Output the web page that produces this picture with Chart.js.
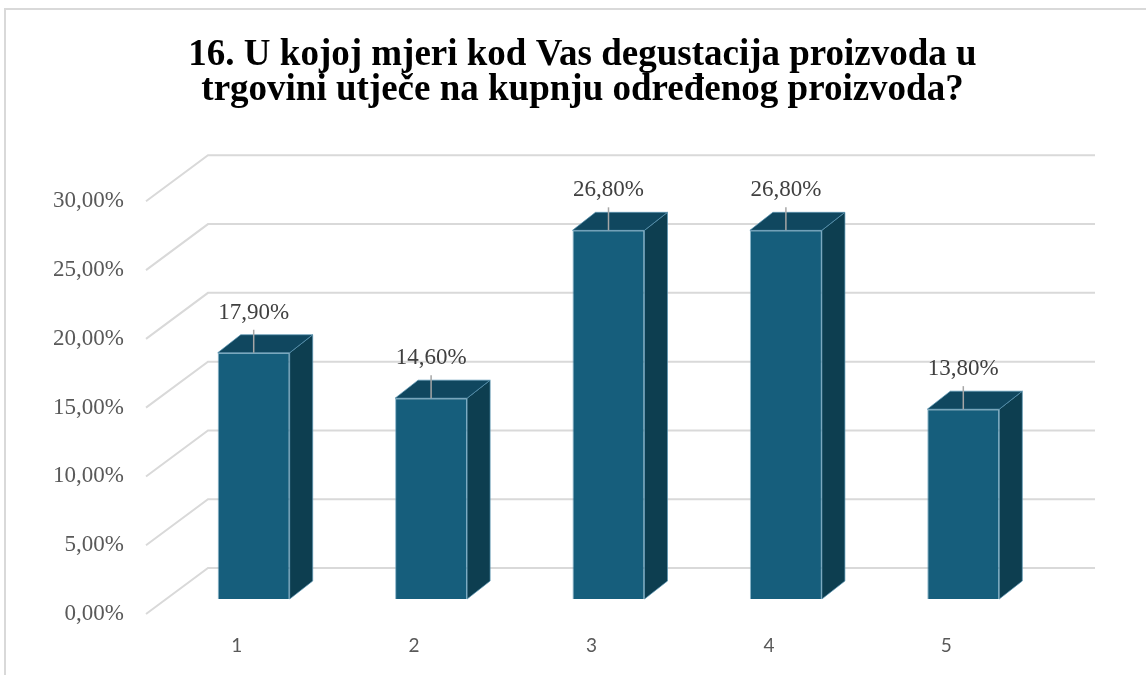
<!DOCTYPE html>
<html>
<head>
<meta charset="utf-8">
<script src="https://cdn.jsdelivr.net/npm/chart.js@4"></script>
<style>
  html, body { margin: 0; padding: 0; background: #fff; }
  #wrap { width: 1146px; height: 675px; }
</style>
</head>
<body>
<div id="wrap"><canvas id="degustacijaChart" width="1146" height="675"></canvas></div>
<script>
const categories = ['1', '2', '3', '4', '5'];
const shares = [17.9, 14.6, 26.8, 26.8, 13.8];
const yMax = 30;
const yStep = 5;
const titleLines = ['16. U kojoj mjeri kod Vas degustacija proizvoda u', 'trgovini utječe na kupnju određenog proizvoda?'];

const fmtPct = v => v.toFixed(2).replace('.', ',') + '%';

// 3d look: bar depth and the floor/wall perspective
const BAR_DX = 23, BAR_DY = 18;
const WALL_BACK_X = 43, WALL_FRONT_X = -19, WALL_UP = 31, WALL_DOWN = 15;

const fakeDepth = {
    id: 'fakeDepth',
    beforeDraw(chart) {
        const ctx = chart.ctx;
        ctx.save();
        ctx.strokeStyle = '#d9d9d9';
        ctx.lineWidth = 2;
        ctx.beginPath();
        ctx.moveTo(5, 675);
        ctx.lineTo(5, 9);
        ctx.lineTo(1146, 9);
        ctx.stroke();
        ctx.restore();
    },
    beforeDatasetsDraw(chart) {
        const ctx = chart.ctx;
        const y = chart.scales.y;
        const area = chart.chartArea;
        ctx.save();
        ctx.strokeStyle = '#d9d9d9';
        ctx.lineWidth = 2;
        y.ticks.forEach(t => {
            const py = y.getPixelForValue(t.value);
            ctx.beginPath();
            ctx.moveTo(area.left + WALL_FRONT_X, py + WALL_DOWN);
            ctx.lineTo(area.left + WALL_BACK_X, py - WALL_UP);
            ctx.lineTo(area.right + WALL_BACK_X, py - WALL_UP);
            ctx.stroke();
        });
        ctx.restore();
    },
    afterDatasetsDraw(chart) {
        const ctx = chart.ctx;
        const meta = chart.getDatasetMeta(0);
        ctx.save();
        ctx.lineWidth = 1;
        ctx.strokeStyle = 'rgba(90,150,180,0.7)';
        meta.data.forEach((bar, i) => {
            const l = bar.x - bar.width / 2;
            const r = bar.x + bar.width / 2;
            const top = bar.y, base = bar.base;
            // side
            ctx.fillStyle = '#0d3e50';
            ctx.beginPath();
            ctx.moveTo(r, top);
            ctx.lineTo(r + BAR_DX, top - BAR_DY);
            ctx.lineTo(r + BAR_DX, base - BAR_DY);
            ctx.lineTo(r, base);
            ctx.closePath();
            ctx.fill();
            ctx.stroke();
            // top
            ctx.fillStyle = '#10475f';
            ctx.beginPath();
            ctx.moveTo(l, top);
            ctx.lineTo(l + BAR_DX, top - BAR_DY);
            ctx.lineTo(r + BAR_DX, top - BAR_DY);
            ctx.lineTo(r, top);
            ctx.closePath();
            ctx.fill();
            ctx.stroke();
        });
        // data labels with leader lines
        ctx.font = '23px "Liberation Serif", "Times New Roman", serif';
        ctx.fillStyle = '#404040';
        ctx.textAlign = 'center';
        ctx.textBaseline = 'middle';
        meta.data.forEach((bar, i) => {
            ctx.strokeStyle = '#a6a6a6';
            ctx.lineWidth = 1.5;
            ctx.beginPath();
            ctx.moveTo(bar.x, bar.y - 23);
            ctx.lineTo(bar.x, bar.y);
            ctx.stroke();
            ctx.fillText(fmtPct(shares[i]), bar.x, bar.y - 40);
        });
        ctx.restore();
    }
};

new Chart(document.getElementById('degustacijaChart').getContext('2d'), {
    type: 'bar',
    data: {
        labels: categories,
        datasets: [{
            data: shares,
            backgroundColor: '#165e7c',
            borderColor: 'rgba(90,150,180,0.7)',
            borderWidth: 1,
            categoryPercentage: 1,
            barPercentage: 0.406
        }]
    },
    options: {
        responsive: false,
        animation: false,
        layout: { padding: { left: 19, right: 0, top: 0, bottom: 19 } },
        scales: {
            x: {
                offset: true,
                afterFit: s => { s.height = 57; },
                grid: { display: false, drawTicks: false },
                border: { display: false },
                ticks: {
                    padding: 35,
                    labelOffset: -17,
                    color: '#595959',
                    font: { family: 'Lato, "Open Sans", sans-serif', size: 19 }
                }
            },
            y: {
                min: 0,
                max: yMax,
                afterFit: s => { s.width = 146; },
                grid: { display: false, drawTicks: false },
                border: { display: false },
                ticks: {
                    stepSize: yStep,
                    padding: 41,
                    labelOffset: 15,
                    color: '#595959',
                    font: { family: '"Liberation Serif", "Times New Roman", serif', size: 23 },
                    callback: v => fmtPct(v)
                }
            },
            // empty right-hand box, keeps room for the back wall
            y2: {
                position: 'right',
                min: 0,
                max: yMax,
                afterFit: s => { s.width = 94; },
                grid: { display: false, drawTicks: false },
                border: { display: false },
                ticks: { display: false }
            }
        },
        plugins: {
            legend: { display: false },
            tooltip: { enabled: false },
            title: {
                display: true,
                text: titleLines,
                color: '#000',
                font: { family: '"Liberation Serif", "Times New Roman", serif', size: 37, weight: 'bold', lineHeight: 0.95 },
                padding: { top: 38, bottom: 78 }
            }
        }
    },
    plugins: [fakeDepth]
});
</script>
</body>
</html>
